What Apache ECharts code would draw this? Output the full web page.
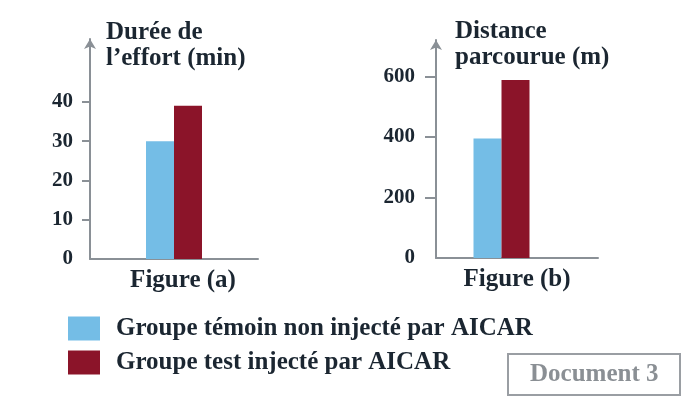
<!DOCTYPE html>
<html>
<head>
<meta charset="utf-8">
<style>
  html, body { margin: 0; padding: 0; background: #fff; }
  #main { width: 700px; height: 400px; }
</style>
<script src="https://cdn.jsdelivr.net/npm/echarts@6/dist/echarts.min.js"></script>
</head>
<body>
<div id="main"></div>
<script>
// data
const seriesNames = ['Groupe témoin non injecté par AICAR', 'Groupe test injecté par AICAR']
const figA = { label: 'Figure (a)', title: 'Durée de\nl\u2019effort (min)', temoin: [30], test: [39] }
const figB = { label: 'Figure (b)', title: 'Distance\nparcourue (m)', temoin: [395], test: [588] }
const ticksA = [0, 10, 20, 30, 40]
const ticksB = [0, 200, 400, 600]

const blue = '#74bde6'
const red = '#8b1429'
const ink = '#1b2631'
const gray = '#8a9096'
const font = 'Liberation Serif'

const chart = echarts.init(document.getElementById('main'), null, { renderer: 'canvas' })

function yAxisOf(gridIndex, ticks, max, tickLen, margin) {
  return {
    type: 'value',
    gridIndex: gridIndex,
    min: 0,
    max: max,
    splitLine: { show: false },
    axisLine: {
      show: true,
      symbol: ['none', 'arrow'],
      symbolSize: [9, 10],
      lineStyle: { color: gray, width: 2 }
    },
    axisTick: {
      show: true,
      length: tickLen,
      customValues: ticks.slice(1),
      lineStyle: { color: gray, width: 2 }
    },
    axisLabel: {
      customValues: ticks,
      margin: margin,
      color: ink,
      fontFamily: font,
      fontWeight: 'bold',
      fontSize: 21
    }
  }
}

function xAxisOf(gridIndex, label, shift) {
  return {
    type: 'category',
    gridIndex: gridIndex,
    data: [label],
    axisLine: { lineStyle: { color: gray, width: 2 } },
    axisTick: { show: false },
    axisLabel: { show: false },
    name: label,
    nameLocation: 'middle',
    nameGap: 9,
    nameTextStyle: {
      color: ink,
      fontFamily: font,
      fontWeight: 'bold',
      fontSize: 25,
      verticalAlign: 'top',
      padding: [0, 0, 0, shift]
    }
  }
}

function bar(name, color, idx, data) {
  return {
    name: name,
    type: 'bar',
    xAxisIndex: idx,
    yAxisIndex: idx,
    data: data,
    barWidth: 28,
    barGap: 0,
    itemStyle: { color: color },
    animation: false
  }
}

chart.setOption({
  backgroundColor: '#fff',
  title: [
    {
      text: figA.title, left: 106, top: 20, padding: 0,
      textStyle: { color: ink, fontFamily: font, fontWeight: 'bold', fontSize: 25, lineHeight: 26 }
    },
    {
      text: figB.title, left: 455, top: 19, padding: 0,
      textStyle: { color: ink, fontFamily: font, fontWeight: 'bold', fontSize: 25, lineHeight: 26 }
    },
    {
      text: 'Document 3', left: 508, top: 354, padding: [8, 22, 8, 22],
      borderColor: '#9a9ea3', borderWidth: 2,
      textStyle: { color: '#8a8f94', fontFamily: font, fontWeight: 'bold', fontSize: 25, lineHeight: 25 }
    }
  ],
  legend: {
    data: seriesNames,
    orient: 'vertical',
    left: 68,
    top: 316,
    padding: 0,
    icon: 'rect',
    itemWidth: 32,
    itemHeight: 24,
    itemGap: 9,
    selectedMode: false,
    textStyle: { color: ink, fontFamily: font, fontWeight: 'bold', fontSize: 25, padding: [0, 0, 0, 11] }
  },
  grid: [
    { left: 90, right: 442, top: 39, bottom: 141 },
    { left: 436, right: 102, top: 40, bottom: 142 }
  ],
  xAxis: [xAxisOf(0, figA.label, 18), xAxisOf(1, figB.label, 0)],
  yAxis: [yAxisOf(0, ticksA, 56, 8, 17), yAxisOf(1, ticksB, 720, 11, 21)],
  series: [
    bar(seriesNames[0], blue, 0, figA.temoin),
    bar(seriesNames[1], red, 0, figA.test),
    bar(seriesNames[0], blue, 1, figB.temoin),
    bar(seriesNames[1], red, 1, figB.test),
    // empty slot so the pair in figure (b) sits left of centre, as in the picture
    { name: '', type: 'bar', xAxisIndex: 1, yAxisIndex: 1, data: ['-'], barWidth: 31, barGap: 0, silent: true }
  ]
})
</script>
</body>
</html>
